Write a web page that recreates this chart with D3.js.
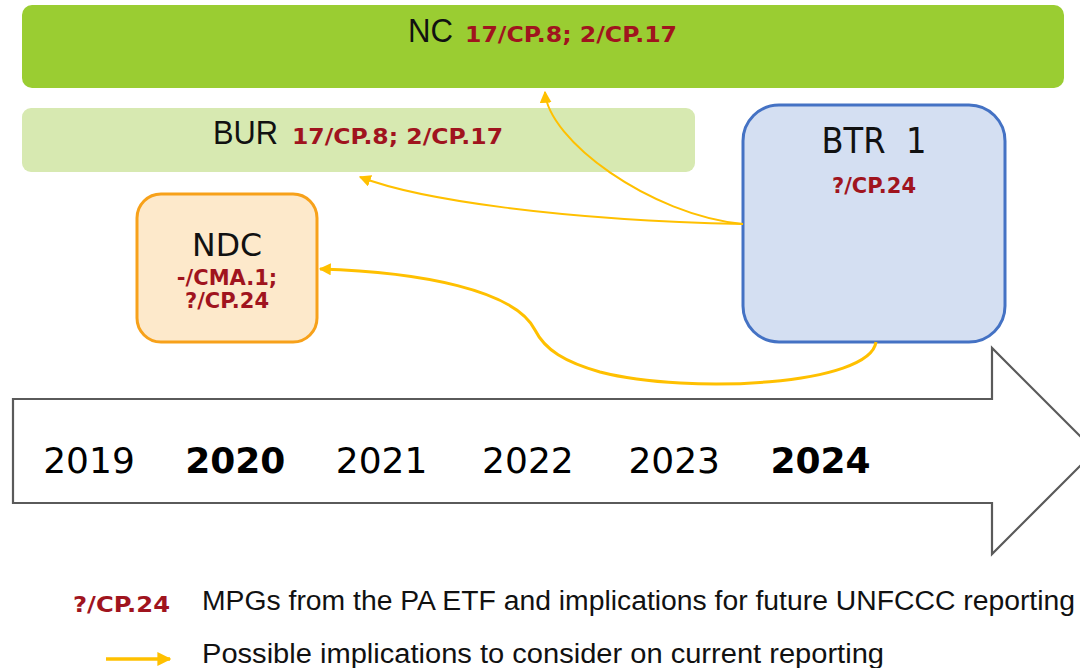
<!DOCTYPE html>
<html><head><meta charset="utf-8">
<script src="https://cdn.jsdelivr.net/npm/d3@7"></script>
<style>html,body{margin:0;padding:0;background:#fff;overflow:hidden}</style>
</head><body><div id="chart"></div>
<script>
// ---- data ----
const years = ["2019","2020","2021","2022","2023","2024"];
const boldYears = ["2020","2024"];
const reportNames = ["NC","BUR","NDC","BTR 1"];
const reportCodes = [["17/CP.8; 2/CP.17"],["17/CP.8; 2/CP.17"],["-/CMA.1;","?/CP.24"],["?/CP.24"]];
const links = [["BTR 1","NC"],["BTR 1","BUR"],["BTR 1","NDC"]];
const legendCode = "?/CP.24";
const legendLabels = ["MPGs from the PA ETF and implications for future UNFCCC reporting",
                      "Possible implications to consider on current reporting"];

// ---- layout ----
const W = 1080, H = 668;
const RED = "#a0141e", GOLD = "#ffc000";
const NARROW = "'Liberation Sans Narrow','Arial Narrow','Liberation Sans',sans-serif";
const VERD = "'DejaVu Sans',Verdana,sans-serif";
const svg = d3.select("#chart").append("svg").attr("width", W).attr("height", H);

const defs = svg.append("defs");
defs.append("marker").attr("id","ah").attr("viewBox","0 0 10 10")
  .attr("refX",9).attr("refY",5).attr("markerWidth",6).attr("markerHeight",6)
  .attr("markerUnits","strokeWidth").attr("orient","auto")
  .append("path").attr("d","M0,0 L10,5 L0,10 z").attr("fill",GOLD);
defs.append("marker").attr("id","ah2").attr("viewBox","0 0 10 10")
  .attr("refX",9).attr("refY",5).attr("markerWidth",4).attr("markerHeight",4)
  .attr("markerUnits","strokeWidth").attr("orient","auto")
  .append("path").attr("d","M0,0 L10,5 L0,10 z").attr("fill",GOLD);

const x = d3.scalePoint().domain(years).range([89, 820.5]);

// boxes geometry
const boxes = {
  "NC":   {x0:22,  x1:1064, y0:5,   y1:88,  rx:10, fill:"#9acd32", stroke:"none", sw:0},
  "BUR":  {x0:22,  x1:695,  y0:108, y1:172, rx:9,  fill:"#d7e9b1", stroke:"none", sw:0},
  "NDC":  {x0:137, x1:317,  y0:194, y1:342, rx:24, fill:"#fde9cb", stroke:"#f7a11a", sw:3},
  "BTR 1":{x0:743, x1:1005, y0:105, y1:342, rx:36, fill:"#d4dff2", stroke:"#4472c4", sw:3}
};

// timeline arrow
const ay0 = 399, ay1 = 503, ax0 = 13, hx = 992, hTop = 348, hBot = 554;
const hMid = (hTop + hBot) / 2;
svg.append("path")
  .attr("d", d3.line()([[ax0,ay0],[hx,ay0],[hx,hTop],[hx+(hMid-hTop),hMid],[hx,hBot],[hx,ay1],[ax0,ay1]]) + "Z")
  .attr("fill","#fff").attr("stroke","#5a5a5a").attr("stroke-width",2.2);

svg.append("g").selectAll("text").data(years).join("text")
  .attr("x", d => x(d)).attr("y", 473).attr("text-anchor","middle")
  .attr("font-family", VERD).attr("font-size", 36)
  .attr("font-weight", d => boldYears.includes(d) ? "bold" : "normal")
  .attr("fill","#000").text(d => d);

// boxes
reportNames.forEach((name, i) => {
  const b = boxes[name];
  svg.append("rect").attr("x", b.x0).attr("y", b.y0).attr("width", b.x1-b.x0).attr("height", b.y1-b.y0)
    .attr("rx", b.rx).attr("fill", b.fill).attr("stroke", b.stroke).attr("stroke-width", b.sw);
});

// labels for NC / BUR (inline)
function inlineLabel(name, nameX, nameW, codeX, codeW, base) {
  svg.append("text").attr("x", nameX).attr("y", base).attr("font-family", NARROW).attr("font-size", 34)
    .attr("textLength", nameW).attr("lengthAdjust","spacingAndGlyphs").attr("fill","#111").text(name);
  const i = reportNames.indexOf(name);
  svg.append("text").attr("x", codeX).attr("y", base).attr("font-family", VERD).attr("font-weight","bold")
    .attr("font-size", 21).attr("textLength", codeW).attr("lengthAdjust","spacingAndGlyphs")
    .attr("fill", RED).text(reportCodes[i][0]);
}
inlineLabel("NC", 408, 45, 465, 212, 42);
inlineLabel("BUR", 213, 65, 292, 211, 144);

// NDC
{
  const b = boxes["NDC"], cx = (b.x0 + b.x1) / 2;
  svg.append("text").attr("x", cx).attr("y", 256).attr("text-anchor","middle").attr("font-family", VERD)
    .attr("font-size", 32).attr("textLength", 70).attr("lengthAdjust","spacingAndGlyphs").attr("fill","#111").text("NDC");
  reportCodes[2].forEach((c, j) => {
    svg.append("text").attr("x", cx).attr("y", 285 + j*23).attr("text-anchor","middle")
      .attr("font-family", VERD).attr("font-weight","bold").attr("font-size", 21).attr("fill", RED).text(c);
  });
}
// BTR
{
  const b = boxes["BTR 1"], cx = (b.x0 + b.x1) / 2;
  svg.append("text").attr("x", cx).attr("y", 153).attr("text-anchor","middle").attr("font-family", VERD)
    .attr("font-size", 35).attr("textLength", 105).attr("lengthAdjust","spacingAndGlyphs").attr("fill","#111")
    .attr("xml:space","preserve").text("BTR\u00a0\u00a01");
  svg.append("text").attr("x", cx).attr("y", 193).attr("text-anchor","middle")
    .attr("font-family", VERD).attr("font-weight","bold").attr("font-size", 21).attr("fill", RED).text(reportCodes[3][0]);
}

// connectors
const src = boxes["BTR 1"];
const sL = [src.x0, 224];
const sB = [876, src.y1];
function connector(target) {
  const t = boxes[target];
  const p = d3.path();
  if (target === "NC") {
    p.moveTo(sL[0], sL[1]);
    p.bezierCurveTo(650, 215, 548, 140, 545, t.y1 + 4);
    return {d: p.toString(), w: 2};
  }
  if (target === "BUR") {
    p.moveTo(sL[0], sL[1]);
    p.bezierCurveTo(560, 220, 420, 200, 360, t.y1 + 5);
    return {d: p.toString(), w: 2};
  }
  p.moveTo(sB[0], sB[1]);
  p.bezierCurveTo(870, 385, 690, 395, 600, 372);
  p.bezierCurveTo(565, 362, 545, 350, 535, 330);
  p.bezierCurveTo(515, 290, 420, 272, t.x1 + 3, 269);
  return {d: p.toString(), w: 3};
}
links.forEach(([s, t]) => {
  const c = connector(t);
  svg.append("path").attr("d", c.d).attr("fill","none").attr("stroke", GOLD)
    .attr("stroke-width", c.w).attr("marker-end", c.w > 2 ? "url(#ah2)" : "url(#ah)");
});

// legend
svg.append("text").attr("x", 73).attr("y", 612).attr("font-family", VERD).attr("font-weight","bold")
  .attr("font-size", 21).attr("textLength", 97).attr("lengthAdjust","spacingAndGlyphs").attr("fill", RED).text(legendCode);
svg.append("path").attr("d", d3.line()([[106,659],[170,659]])).attr("stroke", GOLD).attr("stroke-width", 3.5)
  .attr("marker-end","url(#ah2)");
svg.append("text").attr("x", 202).attr("y", 610).attr("font-family", NARROW).attr("font-size", 27)
  .attr("textLength", 873).attr("lengthAdjust","spacingAndGlyphs").attr("fill","#111").text(legendLabels[0]);
svg.append("text").attr("x", 202).attr("y", 663).attr("font-family", NARROW).attr("font-size", 27)
  .attr("textLength", 682).attr("lengthAdjust","spacingAndGlyphs").attr("fill","#111").text(legendLabels[1]);
</script></body></html>
